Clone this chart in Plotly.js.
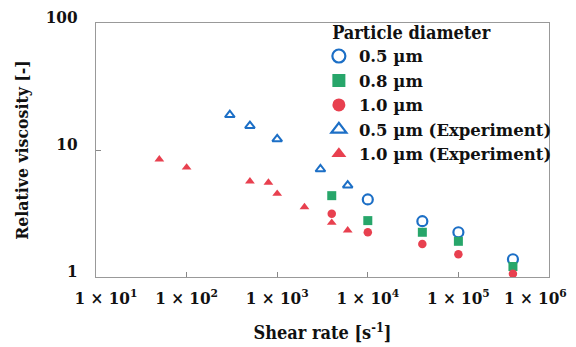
<!DOCTYPE html>
<html>
<head>
<meta charset="utf-8">
<script src="https://cdn.plot.ly/plotly-3.0.1.min.js"></script>
<style>html,body{margin:0;padding:0;background:#fff;}#chart{width:576px;height:347px;}</style>
</head>
<body>
<div id="chart"></div>
<script>
// Simulation results
var sim05X = [1e4, 4e4, 1e5, 4e5];
var sim05Y = [4.08, 2.75, 2.25, 1.38];
var sim08X = [4000, 1e4, 4e4, 1e5, 4e5];
var sim08Y = [4.37, 2.78, 2.25, 1.91, 1.21];
var sim10X = [4000, 1e4, 4e4, 1e5, 4e5];
var sim10Y = [3.15, 2.25, 1.82, 1.51, 1.06];
// Experiments
var exp05X = [300, 500, 1000, 3000, 6000];
var exp05Y = [18.9, 15.5, 12.2, 7.07, 5.27];
var exp10X = [50, 100, 500, 800, 1000, 2000, 4000, 6000];
var exp10Y = [8.44, 7.29, 5.67, 5.54, 4.53, 3.55, 2.68, 2.33];

var legendNames = ['0.5 µm', '0.8 µm', '1.0 µm', '0.5 µm (Experiment)', '1.0 µm (Experiment)'];
var xTickVals = [1e1, 1e2, 1e3, 1e4, 1e5, 1e6];
var xTickText = ['1 × 10<sup>1</sup>', '1 × 10<sup>2</sup>', '1 × 10<sup>3</sup>', '1 × 10<sup>4</sup>', '1 × 10<sup>5</sup>', '1 × 10<sup>6</sup>'];
var yTickVals = [1, 10, 100];
var yTickText = ['1', '10', '100'];

// edge labels are pulled inward (in decades) so they stay inside the figure, as in the original
var edgeNudge = [0.11, 0, 0, 0, 0, -0.15];
var xLabelVals = xTickVals.map(function (v, i) { return v * Math.pow(10, edgeNudge[i]); });

var BLUE = '#1c6fc6', GREEN = '#27a66a', RED = '#e8404f';
var styles = [
  {symbol: 'circle-open', color: BLUE, size: 10, lw: 2.2},
  {symbol: 'square', color: GREEN, size: 9, lw: 0},
  {symbol: 'circle', color: RED, size: 8.5, lw: 0},
  {symbol: 'triangle-up-open', color: BLUE, size: 8.5, lw: 2},
  {symbol: 'triangle-up', color: RED, size: 8.5, lw: 0}
];
var series = [[sim05X, sim05Y], [sim08X, sim08Y], [sim10X, sim10Y], [exp05X, exp05Y], [exp10X, exp10Y]];

var traces = [];
series.forEach(function (s, i) {
  var st = styles[i];
  traces.push({
    x: s[0], y: s[1], type: 'scatter', mode: 'markers', showlegend: false,
    marker: {symbol: st.symbol, color: st.color, size: st.size, line: {width: st.lw, color: st.color}},
    legendgroup: 'g' + i, hoverinfo: 'x+y'
  });
});
// legend entries with larger symbols
styles.forEach(function (st, i) {
  traces.push({
    x: [null], y: [null], type: 'scatter', mode: 'markers', name: legendNames[i],
    legendgroup: 'g' + i,
    marker: {symbol: st.symbol, color: st.color, size: 13, line: {width: st.lw ? 2.2 : 0, color: st.color}}
  });
});
// empty trace to carry the label axis
traces.push({x: [], y: [], xaxis: 'x2', type: 'scatter', mode: 'markers', showlegend: false});

var cond = 'DejaVu Serif Condensed';
var serif = 'DejaVu Serif';
var xRange = [0.9999, 6.0001];
var layout = {
  width: 576, height: 347,
  margin: {l: 96, r: 27, t: 23, b: 70},
  paper_bgcolor: '#fff', plot_bgcolor: '#fff',
  font: {family: cond, color: '#111', size: 17, weight: 'bold'},
  xaxis: {
    type: 'log', range: xRange,
    tickvals: xTickVals, showticklabels: false,
    ticks: 'inside', ticklen: 5, tickcolor: '#888',
    showgrid: false, zeroline: false,
    showline: true, linecolor: '#999', linewidth: 1, mirror: true
  },
  xaxis2: {
    type: 'log', range: xRange, overlaying: 'x', anchor: 'y', side: 'bottom',
    tickvals: xLabelVals, ticktext: xTickText,
    ticks: '', showgrid: false, zeroline: false, showline: false,
    ticklabelstandoff: 9,
    tickfont: {family: cond, size: 17, color: '#111', weight: 'bold'},
    title: {text: 'Shear rate [s<sup>-1</sup>]', font: {family: cond, size: 18, color: '#111', weight: 'bold'}, standoff: 19}
  },
  yaxis: {
    type: 'log', range: [0, 2],
    tickvals: yTickVals, ticktext: yTickText,
    ticks: 'inside', ticklen: 5, tickcolor: '#888',
    showgrid: false, zeroline: false,
    showline: true, linecolor: '#999', linewidth: 1, mirror: true,
    ticklabelshift: -6,
    ticklabelstandoff: 14,
    tickfont: {family: cond, size: 17, color: '#111', weight: 'bold'},
    title: {text: 'Relative viscosity [-]', font: {family: cond, size: 17.5, color: '#111', weight: 'bold'}, standoff: 12}
  },
  legend: {
    x: 0.492, xanchor: 'left', y: 1.03, yanchor: 'top',
    bgcolor: 'rgba(0,0,0,0)', borderwidth: 0,
    font: {family: serif, size: 16.5, color: '#111', weight: 'bold'},
    title: {text: '\u00a0\u00a0Particle diameter', font: {family: cond, size: 18, color: '#111', weight: 'bold'}},
    tracegroupgap: 0
  },
  showlegend: true
};
Plotly.newPlot('chart', traces, layout, {displayModeBar: false, staticPlot: true});
</script>
</body>
</html>
